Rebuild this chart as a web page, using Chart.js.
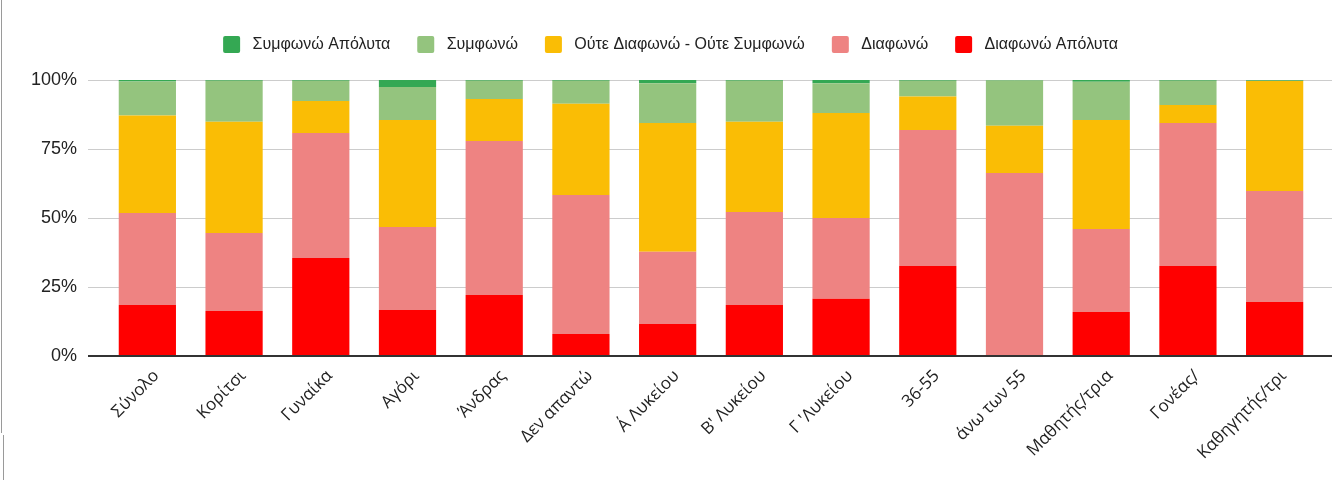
<!DOCTYPE html>
<html>
<head>
<meta charset="utf-8">
<script src="https://cdn.jsdelivr.net/npm/chart.js@4.4.1/dist/chart.umd.min.js"></script>
<style>
  body { margin: 0; background: #fff; }
  canvas { display: block; }
</style>
</head>
<body>
<canvas id="survey" width="1341" height="480"></canvas>
<script>
const categories = ['Σύνολο', 'Κορίτσι', 'Γυναίκα', 'Αγόρι', 'Άνδρας', 'Δεν απαντώ', 'Α΄ Λυκείου',
    'Β\' Λυκείου', 'Γ \'Λυκείου', '36-55', 'άνω των 55', 'Μαθητής/τρια', 'Γονέας/', 'Καθηγητής/τρι'];

// percentages, bottom of the stack first
const disagreeStrong = [18.5, 16.3, 35.5, 16.7, 22.1, 8.0, 11.6, 18.5, 20.7, 32.6, 0, 15.9, 32.6, 19.6];
const disagree = [33.3, 28.3, 45.3, 30.0, 55.8, 50.3, 26.2, 33.7, 29.3, 49.3, 66.3, 30.1, 51.8, 40.2];
const neutral = [35.3, 40.3, 11.6, 38.8, 15.2, 33.1, 46.6, 32.7, 38.0, 12.1, 17.1, 39.5, 6.5, 39.8];
const agree = [12.4, 14.8, 7.3, 12.0, 6.6, 8.3, 14.4, 14.8, 10.8, 5.7, 16.4, 13.9, 8.8, 0.1];
const agreeStrong = [0.5, 0.3, 0.3, 2.5, 0.3, 0.3, 1.2, 0.3, 1.2, 0.3, 0.2, 0.6, 0.3, 0.3];

const yTicks = [0, 25, 50, 75, 100];

const gridColor = (c) => c.tick && c.tick.value === 0 ? '#333333' : '#cccccc';
const gridWidth = (c) => c.tick && c.tick.value === 0 ? 2 : 1;

const data = {
    labels: categories,
    datasets: [
        { label: 'Διαφωνώ Απόλυτα', data: disagreeStrong, backgroundColor: '#ff0000' },
        { label: 'Διαφωνώ', data: disagree, backgroundColor: '#ee8382' },
        { label: 'Ούτε Διαφωνώ - Ούτε Συμφωνώ', data: neutral, backgroundColor: '#fabd05' },
        { label: 'Συμφωνώ', data: agree, backgroundColor: '#94c47e' },
        { label: 'Συμφωνώ Απόλυτα', data: agreeStrong, backgroundColor: '#34a853' },
    ],
};

// fixes legend block height so the plot top lands where the reference has it
const legendHeight = {
    id: 'legendHeight',
    beforeInit(chart) {
        const fit = chart.legend.fit;
        chart.legend.fit = function () {
            fit.bind(chart.legend)();
            this.height = 71;
        };
    },
};

// thin frame line on the left edge, as in the screenshot
const leftEdge = {
    id: 'leftEdge',
    afterDraw(chart) {
        const c = chart.ctx;
        c.save();
        c.strokeStyle = '#9a9a9a';
        c.lineWidth = 1;
        c.beginPath();
        c.moveTo(1.5, 0);
        c.lineTo(1.5, 433);
        c.moveTo(3.5, 435);
        c.lineTo(3.5, 480);
        c.stroke();
        c.restore();
    },
};

const config = {
    type: 'bar',
    data: data,
    options: {
        responsive: false,
        animation: false,
        layout: { padding: { top: 9, left: 0, right: 0, bottom: 0 } },
        datasets: {
            bar: { barPercentage: 0.66, categoryPercentage: 1 },
        },
        plugins: {
            tooltip: { enabled: false },
            legend: {
                position: 'top',
                reverse: true,
                labels: {
                    boxWidth: 17,
                    boxHeight: 17,
                    useBorderRadius: true,
                    borderRadius: 2,
                    padding: 27,
                    color: '#222222',
                    font: { family: '"Liberation Sans", Arial, sans-serif', size: 16 },
                    generateLabels(chart) {
                        const items = Chart.defaults.plugins.legend.labels.generateLabels(chart);
                        items.forEach(it => { it.text = ' ' + it.text; });
                        return items;
                    },
                },
            },
        },
        scales: {
            x: {
                stacked: true,
                grid: { display: false, drawTicks: false },
                border: { display: false },
                afterFit(scale) { scale.height = 124; },
                ticks: {
                    autoSkip: false,
                    minRotation: 45,
                    maxRotation: 45,
                    padding: 10,
                    labelOffset: 9,
                    color: '#222222',
                    font: { family: '"Open Sans", sans-serif', size: 17 },
                },
            },
            y: {
                stacked: true,
                min: 0,
                max: 100,
                afterFit(scale) { scale.width = 104; },
                afterBuildTicks(scale) { scale.ticks = yTicks.map(v => ({ value: v })); },
                border: { display: false },
                grid: {
                    color: gridColor,
                    tickColor: gridColor,
                    lineWidth: gridWidth,
                    tickLength: 16,
                },
                ticks: {
                    padding: 11,
                    color: '#222222',
                    font: { family: '"Liberation Sans", Arial, sans-serif', size: 18 },
                    callback: (v) => v + '%',
                },
            },
            yRight: {
                position: 'right',
                min: 0,
                max: 100,
                afterFit(scale) { scale.width = 23; },
                afterBuildTicks(scale) { scale.ticks = yTicks.map(v => ({ value: v })); },
                border: { display: false },
                grid: {
                    drawOnChartArea: false,
                    color: gridColor,
                    tickColor: gridColor,
                    lineWidth: gridWidth,
                    tickLength: 14,
                },
                ticks: { display: false },
            },
        },
    },
    plugins: [legendHeight, leftEdge],
};

const ctx = document.getElementById('survey').getContext('2d');
const surveyChart = new Chart(ctx, config);
</script>
</body>
</html>
